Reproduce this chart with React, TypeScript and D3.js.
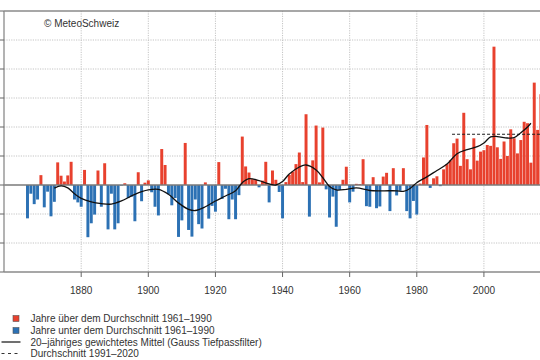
import React from "react";
import * as d3 from "d3";

// Summer temperature anomaly (°C) relative to 1961–1990, one value per year from 1864
const firstYear = 1864;
const anomalies: number[] = [
  -1.15, -0.3, -0.66, -0.5, 0.34, -0.77, -0.23, -1.08, -0.58, 0.78, // 1864-1873
  0.32, 0.12, 0.33, 0.8, -0.5, -0.6, -0.75, 0.52, -1.8, -1.32, // 1874-1883
  -1.02, 0.5, -0.75, 0.75, -1.53, -0.3, -1.53, -1.32, -0.02, 0.06, // 1884-1893
  -0.45, -0.4, -1.25, 0.44, -0.56, 0.08, 0.16, -0.25, -0.75, -1.05, // 1894-1903
  1.24, 0.69, -0.32, -0.7, -0.45, -1.79, -1.22, 1.45, -1.55, -1.78, // 1904-1913
  -0.5, -1.35, -1.5, 0.09, -1.16, -0.72, -0.92, 0.79, -0.48, -0.13, // 1914-1923
  -1.18, -0.5, -1.18, -0.35, 1.67, 0.64, 0.43, 0.2, 0.18, -0.08, // 1924-1933
  0.15, 0.8, -0.6, 0.5, 0.18, -0.24, -1.15, 0.1, 0.35, 0.46, // 1934-1943
  0.72, 1.12, 0.1, 2.44, -1.09, 0.85, 2.05, 0.09, 1.98, -0.15, // 1944-1953
  -1.12, -0.4, -1.44, -0.17, 0.18, 0.63, -0.6, -0.23, 0.04, 0.03, // 1954-1963
  0.89, -0.73, -0.75, 0.27, -0.8, -0.74, 0.29, 0.42, -0.9, 0.58, // 1964-1973
  -0.36, -0.2, 0.58, -0.9, -1.15, -0.55, -1.02, 0.05, 0.95, 2.07, // 1974-1983
  -0.1, 0.23, 0.3, -0.04, 0.54, 0.72, 0.85, 1.44, 1.6, 0.66, // 1984-1993
  2.49, 0.89, 0.54, 1.61, 0.84, 1.15, 1.2, 1.38, 1.35, 4.77, // 1994-2003
  1.3, 0.9, 1.5, 1.0, 1.92, 1.61, 1.09, 1.55, 2.18, 2.13, // 2004-2013
  0.77, 3.53, 1.9, 3.13, // 2014-2017
];
const years: number[] = anomalies.map((_, i) => firstYear + i);

// 20-year Gaussian low-pass curve
const smoothYears: number[] = [
  1872, 1874, 1876, 1878, 1880, 1883, 1886, 1889, 1892, 1896, 1900, 1903, 1906, 1909,
  1912, 1914, 1917, 1920, 1923, 1926, 1928, 1930, 1933, 1936, 1938, 1940, 1942, 1945,
  1947, 1950, 1952, 1954, 1956, 1959, 1962, 1966, 1970, 1974, 1976, 1978, 1980, 1983,
  1986, 1989, 1992, 1995, 1998, 2000, 2002, 2004, 2007, 2009, 2011, 2013, 2014,
];
const smoothValues: number[] = [
  -0.11, -0.03, -0.1, -0.3, -0.46, -0.58, -0.64, -0.66, -0.55, -0.32, -0.17, -0.15, -0.32, -0.62,
  -0.84, -0.88, -0.75, -0.55, -0.38, -0.2, 0.08, 0.22, 0.15, 0.04, 0.0, 0.12, 0.38, 0.62,
  0.69, 0.52, 0.25, -0.05, -0.17, -0.15, -0.1, -0.19, -0.2, -0.2, -0.22, -0.12, 0.08, 0.28,
  0.5, 0.72, 1.08, 1.22, 1.32, 1.45, 1.66, 1.67, 1.62, 1.63, 1.8, 2.0, 2.13,
];

// Mean 1991–2020
const meanPeriod: number[] = [1990.5, 2020.5];
const meanValue = 1.75;

const xTicks: number[] = [1880, 1900, 1920, 1940, 1960, 1980, 2000, 2020];
const yTicks: number[] = [-3, -2, -1, 0, 1, 2, 3, 4, 5, 6];

const legendItems: string[] = [
  "Jahre über dem Durchschnitt 1961–1990",
  "Jahre unter dem Durchschnitt 1961–1990",
  "20–jähriges gewichtetes Mittel (Gauss Tiefpassfilter)",
  "Durchschnitt 1991–2020",
];

const RED = "#e8412e";
const BLUE = "#2c71b4";
const FONT = "'Liberation Sans', Arial, Helvetica, sans-serif";

export default function App() {
  const W = 540;
  const H = 360;
  const x = d3.scaleLinear().domain([1857, 2027]).range([4, 4 + 170 * 3.356]);
  const y = d3.scaleLinear().domain([-3, 6]).range([272, 11]);
  const step = x(1881) - x(1880);
  const bw = step * 0.88;

  const line = d3
    .line<number>()
    .x((_, i) => x(smoothYears[i]))
    .y((d) => y(d))
    .curve(d3.curveCatmullRom.alpha(0.5));

  const x0 = x.range()[0];
  const x1 = x.range()[1];
  const legendY = [318.5, 330.5, 342, 353.5];

  return (
    <svg
      width={W}
      height={H}
      style={{ position: "absolute", left: 0, top: 0, background: "#fff" }}
      fontFamily={FONT}
    >
      <rect x={0} y={0} width={W} height={H} fill="#fff" />
      {/* grid */}
      {yTicks
        .filter((t) => t !== 0 && t !== 6 && t !== -3)
        .map((t) => (
          <line
            key={"gy" + t}
            x1={x0}
            x2={x1}
            y1={y(t)}
            y2={y(t)}
            stroke="#c4c4c4"
            strokeWidth={1}
            strokeDasharray="1.2,1.2"
          />
        ))}
      {xTicks.map((t) => (
        <line
          key={"gx" + t}
          x1={x(t)}
          x2={x(t)}
          y1={y(6)}
          y2={y(-3)}
          stroke="#c4c4c4"
          strokeWidth={1}
          strokeDasharray="1.2,1.2"
        />
      ))}
      {/* bars */}
      {anomalies.map((v, i) => (
        <rect
          key={"b" + i}
          x={x(years[i]) - bw / 2}
          width={bw}
          y={v >= 0 ? y(v) : y(0)}
          height={Math.abs(y(v) - y(0))}
          fill={v >= 0 ? RED : BLUE}
        />
      ))}
      {/* zero line */}
      <line x1={x0} x2={x1} y1={y(0)} y2={y(0)} stroke="#7a7a7a" strokeWidth={1.3} />
      {/* mean 1991-2020 */}
      <line
        x1={x(meanPeriod[0])}
        x2={x(meanPeriod[1])}
        y1={y(meanValue)}
        y2={y(meanValue)}
        stroke="#222"
        strokeWidth={1}
        strokeDasharray="3,2"
      />
      {/* smooth curve */}
      <path d={line(smoothValues) || ""} fill="none" stroke="#111" strokeWidth={1.3} />
      {/* frame */}
      <line x1={x0} x2={x1} y1={y(6)} y2={y(6)} stroke="#8a8a8a" strokeWidth={1.3} />
      <line x1={x0} x2={x1} y1={y(-3)} y2={y(-3)} stroke="#8a8a8a" strokeWidth={1.3} />
      <line x1={x0} x2={x0} y1={y(6)} y2={y(-3)} stroke="#8a8a8a" strokeWidth={1.3} />
      {yTicks.map((t) => (
        <line key={"yt" + t} x1={x0 - 5} x2={x0} y1={y(t)} y2={y(t)} stroke="#666" strokeWidth={1} />
      ))}
      {xTicks.map((t) => (
        <g key={"xt" + t}>
          <line x1={x(t)} x2={x(t)} y1={y(-3)} y2={y(-3) + 5} stroke="#666" strokeWidth={1} />
          <text x={x(t)} y={293.5} fontSize={10} textAnchor="middle" fill="#333">
            {t}
          </text>
        </g>
      ))}
      <text x={44} y={27} fontSize={10} fill="#333">
        © MeteoSchweiz
      </text>
      {/* legend */}
      <rect x={13} y={legendY[0] - 3} width={6} height={6} fill={RED} stroke="#555" strokeWidth={0.6} />
      <rect x={13} y={legendY[1] - 3} width={6} height={6} fill={BLUE} stroke="#555" strokeWidth={0.6} />
      <line x1={1.5} x2={20.5} y1={legendY[2]} y2={legendY[2]} stroke="#111" strokeWidth={1.2} />
      <line
        x1={1.5}
        x2={20.5}
        y1={legendY[3]}
        y2={legendY[3]}
        stroke="#333"
        strokeWidth={1}
        strokeDasharray="3,3.5"
      />
      {legendItems.map((s, i) => (
        <text key={"lg" + i} x={30.5} y={legendY[i] + 3.6} fontSize={10} fill="#333">
          {s}
        </text>
      ))}
    </svg>
  );
}
